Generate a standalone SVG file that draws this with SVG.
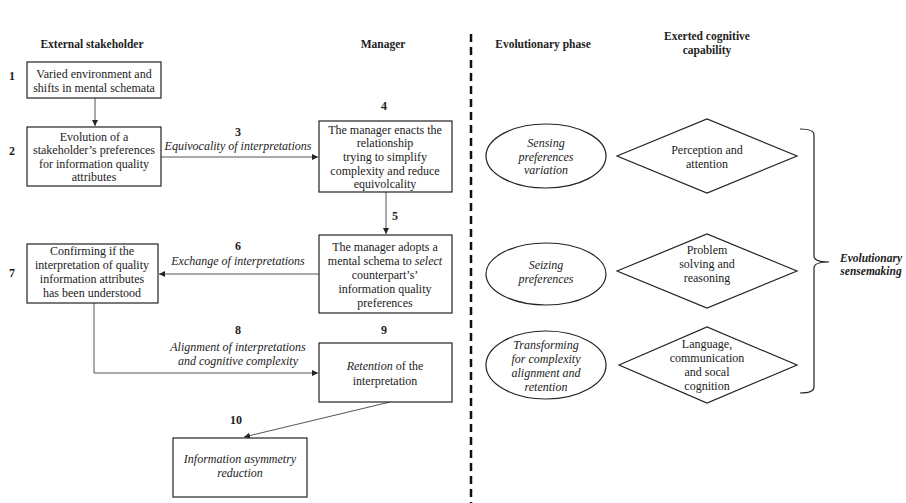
<svg xmlns="http://www.w3.org/2000/svg" width="906" height="503" viewBox="0 0 906 503" font-family="'Liberation Serif', 'DejaVu Serif', 'Noto Serif', serif">
<style>
text{font-family:'Liberation Serif','Times New Roman','DejaVu Serif',serif;font-size:12px;fill:#222;text-anchor:middle}
.h{font-weight:bold;font-size:11.5px}
.n{font-weight:bold;font-size:12px}
.i{font-style:italic}
.box{fill:#fff;stroke:#222;stroke-width:1.2}
.ln{fill:none;stroke:#555;stroke-width:1}
.sh{fill:#fff;stroke:#222;stroke-width:1.2}
</style>
<defs>
<marker id="ah" markerWidth="8" markerHeight="8" refX="6" refY="3" orient="auto" markerUnits="userSpaceOnUse">
<path d="M0,0 L6,3 L0,6 Z" fill="#222"/>
</marker>
</defs>
<rect width="906" height="503" fill="#fff"/>
<g id="headers">
<text class="h" x="92" y="48">External stakeholder</text>
<text class="h" x="383" y="48">Manager</text>
<text class="h" x="543" y="48">Evolutionary phase</text>
<text class="h" x="707" y="40">Exerted cognitive</text>
<text class="h" x="707" y="54">capability</text>
</g>
<g id="divider">
<line x1="471" y1="34" x2="471" y2="503" stroke="#111" stroke-width="2.5" stroke-dasharray="8,5"/>
</g>
<g id="connectors">
<line class="ln" x1="95" y1="98" x2="95" y2="126" marker-end="url(#ah)"/>
<line class="ln" x1="161" y1="157" x2="318" y2="157" marker-end="url(#ah)"/>
<line class="ln" x1="386" y1="192" x2="386" y2="234" marker-end="url(#ah)"/>
<line class="ln" x1="319" y1="274" x2="159" y2="274" marker-end="url(#ah)"/>
<polyline class="ln" points="94,303 94,373 318,373" stroke="#888" marker-end="url(#ah)"/>
<line class="ln" x1="390" y1="402" x2="244" y2="437" marker-end="url(#ah)"/>
</g>
<g id="labels">
<text class="n" x="12" y="80">1</text>
<text class="n" x="12" y="155">2</text>
<text class="n" x="238" y="136">3</text>
<text class="i" x="238" y="150">Equivocality of interpretations</text>
<text class="n" x="384" y="110">4</text>
<text class="n" x="395" y="220">5</text>
<text class="n" x="238" y="250">6</text>
<text class="i" x="238" y="265">Exchange of interpretations</text>
<text class="n" x="12" y="277">7</text>
<text class="n" x="238" y="334">8</text>
<text class="i" x="238" y="351">Alignment of  interpretations</text>
<text class="i" x="238" y="365">and cognitive complexity</text>
<text class="n" x="384" y="334">9</text>
<text class="n" x="236" y="424">10</text>
</g>
<g id="n1">
<rect class="box" x="27" y="62" width="134" height="36"/>
<text x="94" y="78">Varied environment and</text>
<text x="94" y="92">shifts in mental schemata</text>
</g>
<g id="n2">
<rect class="box" x="27" y="127" width="134" height="59"/>
<text x="94" y="141">Evolution of a</text>
<text x="94" y="154">stakeholder’s preferences</text>
<text x="94" y="168">for information quality</text>
<text x="94" y="181">attributes</text>
</g>
<g id="n4">
<rect class="box" x="319" y="121" width="133" height="71"/>
<text x="385" y="134">The manager enacts the</text>
<text x="385" y="147">relationship</text>
<text x="385" y="161">trying to simplify</text>
<text x="385" y="175">complexity and reduce</text>
<text x="385" y="188">equivolcality</text>
</g>
<g id="n5">
<rect class="box" x="319" y="235" width="133" height="78"/>
<text x="385" y="251">The manager adopts a</text>
<text x="385" y="265">mental schema to <tspan class="i">select</tspan></text>
<text x="385" y="279">counterpart’s’</text>
<text x="385" y="293">information quality</text>
<text x="385" y="307">preferences</text>
</g>
<g id="n7">
<rect class="box" x="27" y="244" width="131" height="59"/>
<text x="92" y="255">Confirming if the</text>
<text x="92" y="269">interpretation of quality</text>
<text x="92" y="283">information attributes</text>
<text x="92" y="297">has been understood</text>
</g>
<g id="n9">
<rect class="box" x="319" y="343" width="133" height="59"/>
<text x="385" y="370"><tspan class="i">Retention</tspan> of the</text>
<text x="385" y="385">interpretation</text>
</g>
<g id="n10">
<rect class="box" x="173" y="438" width="134" height="59"/>
<text class="i" x="240" y="463">Information asymmetry</text>
<text class="i" x="240" y="477">reduction</text>
</g>
<g id="e1">
<ellipse class="sh" cx="546" cy="156" rx="60" ry="32"/>
<text class="i" x="546" y="147">Sensing</text>
<text class="i" x="546" y="161">preferences</text>
<text class="i" x="546" y="174">variation</text>
</g>
<g id="d1">
<polygon class="sh" points="617,156 707,119 797,156 707,193"/>
<text x="707" y="154">Perception and</text>
<text x="707" y="168">attention</text>
</g>
<g id="e2">
<ellipse class="sh" cx="546" cy="274" rx="60" ry="31"/>
<text class="i" x="546" y="269">Seizing</text>
<text class="i" x="546" y="283">preferences</text>
</g>
<g id="d2">
<polygon class="sh" points="617,271 707,234 797,271 707,308"/>
<text x="707" y="254">Problem</text>
<text x="707" y="268">solving and</text>
<text x="707" y="282">reasoning</text>
</g>
<g id="e3">
<ellipse class="sh" cx="546" cy="365" rx="60" ry="34"/>
<text class="i" x="546" y="349">Transforming</text>
<text class="i" x="546" y="363">for complexity</text>
<text class="i" x="546" y="377">alignment and</text>
<text class="i" x="546" y="391">retention</text>
</g>
<g id="d3">
<polygon class="sh" points="619,365 707,327 797,365 707,403"/>
<text x="707" y="348">Language,</text>
<text x="707" y="362">communication</text>
<text x="707" y="376">and socal</text>
<text x="707" y="390">cognition</text>
</g>
<g id="bracket">
<path d="M800,129 Q814,129 814,135 L814,256 Q814,262 829,262 Q814,262 814,268 L814,387 Q814,393 800,393" fill="none" stroke="#222" stroke-width="1.2"/>
<text class="h i" x="871" y="262">Evolutionary</text>
<text class="h i" x="871" y="275">sensemaking</text>
</g>
</svg>
